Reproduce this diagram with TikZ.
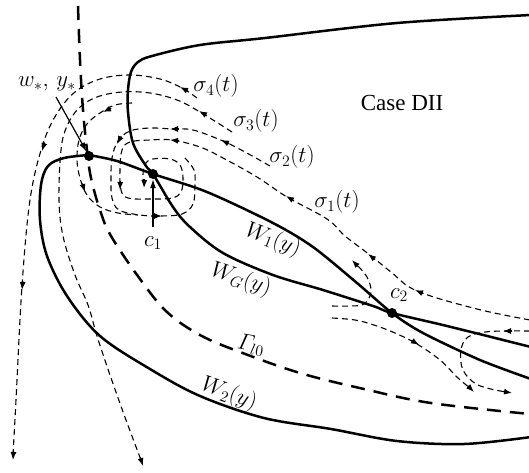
\documentclass[tikz,border=0pt]{standalone}
\usepackage{amsmath}
\usepackage[no-math]{fontspec}
\setmainfont{Liberation Serif}
\usetikzlibrary{arrows.meta,calc}
\tikzset{
  wall/.style={line width=2.5pt, line cap=round, line join=round},
  gam/.style={line width=2.5pt, dash pattern=on 14pt off 9pt},
  traj/.style={line width=1.1pt, dash pattern=on 6pt off 4pt},
  arrtip/.style={-{Latex[length=8pt,width=6pt]}, line width=1.1pt, solid},
  ptr/.style={-{Latex[length=9pt,width=6pt]}, line width=1.2pt},
  lbl/.style={font=\fontsize{20.74}{25}\selectfont, inner sep=0pt, scale=1.1},
  bigdot/.style={circle, fill=black, inner sep=0pt, minimum size=10pt}
}
\newcommand\arw[3]{\draw[arrtip] ({#1-9*cos(#3)},{#2-9*sin(#3)}) -- (#1,#2);}
\begin{document}
\begin{tikzpicture}[x=1pt,y=-1pt]
\useasboundingbox (0,0) rectangle (529,472);

% ---------- trajectories (thin dashed) ----------
% sigma_4
\draw[traj] plot[smooth, tension=0.6] coordinates {(197,98) (182,88) (160,79) (130,75) (100,79) (75,92) (56,115) (42,147) (30,200) (22,286) (16,400) (13,455)};
\arw{180}{87}{207}
\arw{42}{151}{107}
\arw{22}{290}{95}
\arw{13}{460}{93}
% sigma_3
\draw[traj] plot[smooth, tension=0.6] coordinates {(232,132) (200,112) (177,100) (150,93) (122,92) (97,97) (79,108) (67,126) (61,150) (59,200) (63,236) (75,275) (88,305) (97,336) (110,375) (126,420) (141,460)};
\arw{199}{111}{210}
\arw{143}{466}{72}
% extra trajectory from W1
\draw[traj] plot[smooth, tension=0.6] coordinates {(132,103) (115,105) (100,113) (87,124) (79,140) (77,160) (80,178) (87,195) (100,207) (118,213) (138,215)};
\arw{103}{112}{155}
\arw{85}{192}{72}
% sigma_2 (outer loop around c1)
\draw[traj] plot[smooth, tension=0.6] coordinates {(270,166) (245,152) (223,141) (193,130) (172,129) (150,128) (130,131) (118,141) (112,158) (111,180) (112,198) (119,210) (140,215) (160,216) (182,214) (193,204) (195,185) (194,170) (185,158)};
\arw{221}{140}{205}
\arw{170}{129}{180}
\arw{117}{144}{118}
\arw{162}{216}{0}
% sigma_1 (long, spiralling into c1)
\draw[traj] plot[smooth, tension=0.6] coordinates {(530,320) (477,309) (417,291) (391,272) (370,255) (345,236) (327,219) (287,197) (257,177) (223,158) (200,147) (172,140) (150,140) (130,142) (122,150) (120,170) (121,190) (128,198) (150,199) (172,198) (181,192) (183,178) (180,165) (170,159) (153,159) (145,164) (143,175) (144,186)};
\arw{415}{290}{203}
\arw{368}{254}{218}
\arw{286}{196}{211}
\arw{170}{140}{185}
\arw{120}{190}{92}
\arw{144}{188}{92}
% trajectories near c2
\draw[traj] plot[smooth, tension=0.6] coordinates {(332,306) (350,306) (364,304) (371,292) (367,277) (356,264)};
\arw{352}{260}{227}
\draw[traj] plot[smooth, tension=0.6] coordinates {(332,318) (355,320) (374,325) (395,333) (417,344) (440,360) (458,378) (470,388)};
\arw{419}{345}{32}
\arw{474}{392}{45}
\draw[traj] plot[smooth, tension=0.6] coordinates {(530,331) (507,331) (485,332) (468,337) (461,350) (463,370) (478,385) (506,392)};
\arw{503}{331}{180}
\arw{512}{393}{10}

% ---------- Gamma_l0 (thick dashed) ----------
\draw[gam] plot[smooth, tension=0.6] coordinates {(78,6) (80,60) (83,110) (87,150) (91,178) (100,210) (111,236) (140,279) (167,312) (200,335) (240,352) (300,373) (364,389) (431,403) (530,414)};

% ---------- solid curves ----------
\draw[wall] plot[smooth, tension=0.55] coordinates {(531,15) (397,23) (265,38) (200,45) (152,56) (138,62) (131,72) (128,90) (128,112) (133,143) (146,166) (153,174) (173,207) (190,227) (223,253) (273,275) (323,290) (373,306) (392,313) (447,326) (531,347)};
\draw[wall] plot[smooth, tension=0.55] coordinates {(531,437) (464,444) (397,441) (331,429) (264,418) (200,396) (150,369) (100,336) (67,296) (47,256) (40,220) (41,185) (48,166) (64,158) (89,155)};
\draw[wall] plot[smooth, tension=0.5] coordinates {(89,155) (117,161) (153,174) (207,192) (273,223) (313,247) (357,283) (392,313) (423,333) (480,360) (531,379)};

% ---------- points ----------
\node[bigdot] (w) at (89,156) {};
\node[bigdot] (c1) at (153,174) {};
\node[bigdot] (c2) at (392,313) {};

% ---------- labels ----------
\node[lbl] (s4) at (216,86) {$\sigma_4(t)$};
\node[lbl] (s3) at (256,121) {$\sigma_3(t)$};
\node[lbl] (s2) at (292,157) {$\sigma_2(t)$};
\node[lbl] (s1) at (337,202) {$\sigma_1(t)$};
\node[lbl, rotate=-21] (w1) at (273,240) {$W_1(y)$};
\node[lbl, rotate=-18] (wg) at (241,280) {$W_G(y)$};
\node[lbl, rotate=-10] (gl) at (251,345) {$\varGamma_{l0}$};
\node[lbl, rotate=-20] (w2) at (229,394) {$W_2(y)$};
\node[lbl] (c2l) at (399,295) {$c_2$};
\node[lbl] (c1l) at (153,243) {$c_1$};
\node[lbl] (wy) at (47,84) {$w_*,\,y_*$};
\node[font=\fontsize{23}{26}\selectfont, inner sep=0pt] (case) at (402,103) {Case DII};

\coordinate (wtail) at (56,97);
\coordinate (c1tail) at (153,227);
\draw[ptr] (wtail) -- (w);
\draw[ptr] (c1tail) -- (c1);
\end{tikzpicture}
\end{document}
